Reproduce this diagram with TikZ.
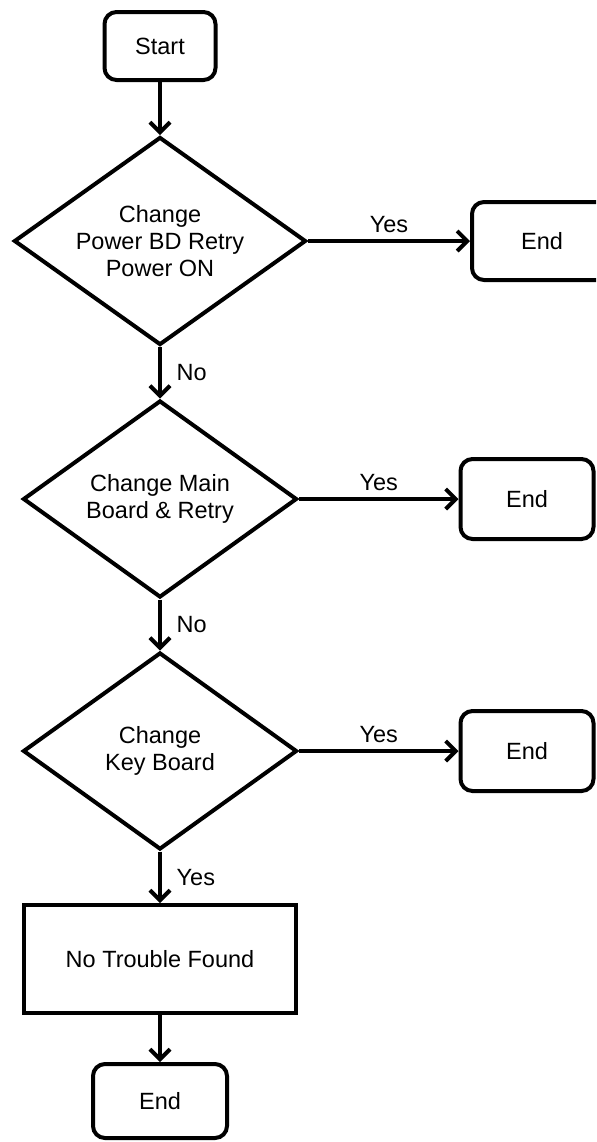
\documentclass[tikz,border=0pt]{standalone}
\usepackage{fontspec}
\setmainfont{Liberation Sans}
\usetikzlibrary{shapes.geometric,arrows.meta}

\begin{document}
\begin{tikzpicture}[x=0.5pt,y=-0.5pt,line width=2pt,
  font=\fontsize{11.75}{13.5}\selectfont,
  term/.style={draw,rounded corners=6pt,minimum width=67pt,minimum height=39pt},
  decision/.style={draw,diamond,aspect=1.4,inner sep=0pt,align=center,
    minimum width=137pt,minimum height=98.5pt},
  arr/.style={-{Straight Barb[length=5pt,width=10pt]}}]
\clip (0,0) rectangle (596,1142);

\node[term,minimum width=55.5pt,minimum height=34pt] (start) at (160,46) {Start};
\node[decision,minimum width=146pt,minimum height=104pt] (q1) at (160,241) {Change\\Power BD Retry\\Power ON};
\node[term,minimum width=70pt] (end1) at (542,241) {End};

\node[decision] (q2) at (160,499) {Change Main\\Board \& Retry};
\node[term,minimum width=66.5pt,minimum height=40pt] (end2) at (527,499) {End};

\node[decision] (q3) at (160,751) {Change\\Key Board};
\node[term,minimum width=66.5pt,minimum height=40pt] (end3) at (527,751) {End};

\node[draw,minimum width=136pt,minimum height=54pt] (ntf) at (160,959) {No Trouble Found};
\node[term,minimum height=37pt] (end4) at (160,1101) {End};

\draw[arr] (start) -- (q1);
\draw[arr] (q1) -- node[above] {Yes} (end1);
\draw[arr] (q1) -- node[right,xshift=4pt] {No} (q2);
\draw[arr] (q2) -- node[above] {Yes} (end2);
\draw[arr] (q2) -- node[right,xshift=4pt] {No} (q3);
\draw[arr] (q3) -- node[above] {Yes} (end3);
\draw[arr] (q3) -- node[right,xshift=4pt] {Yes} (ntf);
\draw[arr] (ntf) -- (end4);
\end{tikzpicture}
\end{document}
